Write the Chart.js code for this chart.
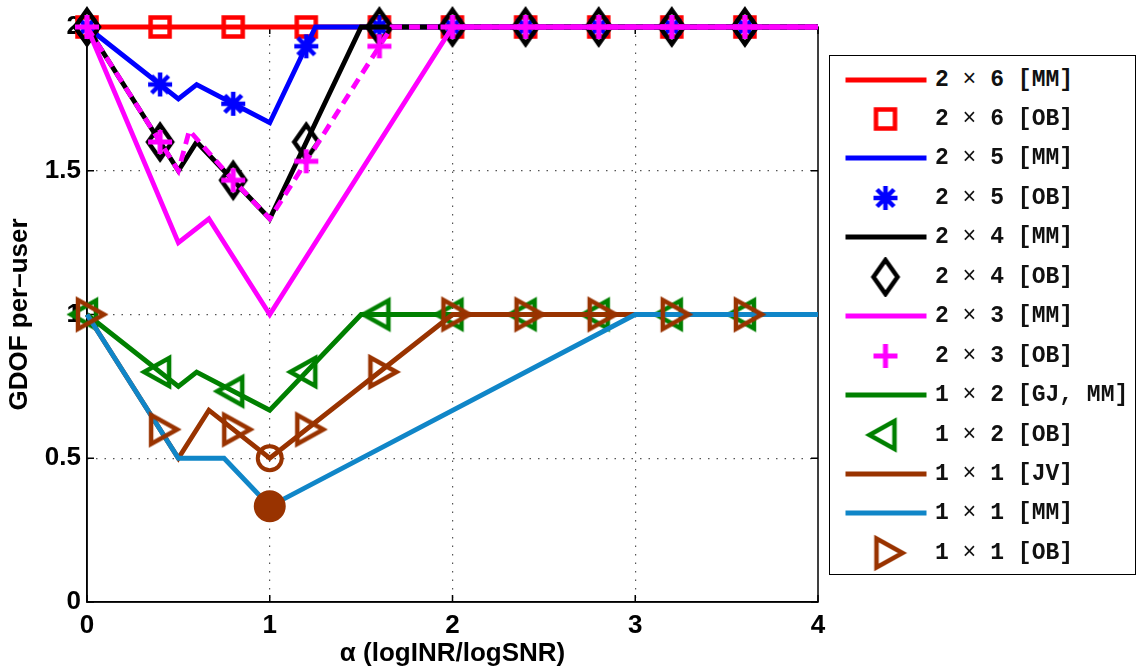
<!DOCTYPE html>
<html>
<head>
<meta charset="utf-8">
<style>
  body { margin: 0; background: #fff; }
  #wrap { position: relative; width: 1140px; height: 669px; }
  #legend {
    position: absolute; left: 829px; top: 55px; width: 305px; height: 518px;
    border: 1.5px solid #000; background: #fff;
  }
  .row { position: absolute; left: 0; height: 40px; width: 300px; }
  .row canvas { position: absolute; left: 0; top: 0; }
  .row span.t {
    position: absolute; left: 105px; top: 0; line-height: 40px; white-space: pre;
    font-family: "Liberation Mono", monospace; font-weight: bold; font-size: 23px; color: #111;
  }
  .row span.x { font-weight: normal; }
</style>
<script src="https://cdn.jsdelivr.net/npm/chart.js"></script>
</head>
<body>
<div id="wrap">
  <canvas id="gdofChart" width="1140" height="669"></canvas>
  <div id="legend"></div>
</div>
<script>
  // axis ticks
  const xTicks = [0, 1, 2, 3, 4];
  const yTicks = [0, 0.5, 1, 1.5, 2];
  const yTickLabels = ["0", "0.5", "1", "1.5", "2"];

  // OB markers, every 0.4
  const alphaOB = [0, 0.4, 0.8, 1.2, 1.6, 2.0, 2.4, 2.8, 3.2, 3.6];
  const ob2x6 = [2, 2, 2, 2, 2, 2, 2, 2, 2, 2];
  const ob2x5 = [2, 1.8, 1.733, 1.933, 2, 2, 2, 2, 2, 2];
  const ob2x4 = [2, 1.6, 1.467, 1.6, 2, 2, 2, 2, 2, 2];
  const ob2x3 = [2, 1.6, 1.467, 1.533, 1.933, 2, 2, 2, 2, 2];
  const ob1x2 = [1, 0.8, 0.733, 0.8, 1, 1, 1, 1, 1, 1];
  const ob1x1 = [1, 0.6, 0.6, 0.6, 0.8, 1, 1, 1, 1, 1];

  // dashed 2x3 OB curve
  const alphaOBCurve = [0, 0.4, 0.5, 0.56, 0.8, 1, 1.2, 1.667, 4];
  const obCurve2x3 = [2, 1.6, 1.5, 1.64, 1.467, 1.333, 1.533, 2, 2];

  // MM / JV curves
  const alpha2x6 = [0, 4];
  const mm2x6 = [2, 2];
  const alpha2x5 = [0, 0.5, 0.6, 1, 1.25, 4];
  const mm2x5 = [2, 1.75, 1.8, 1.667, 2, 2];
  const alpha2x4 = [0, 0.5, 0.6, 1, 1.5, 4];
  const mm2x4 = [2, 1.5, 1.6, 1.333, 2, 2];
  const alpha2x3 = [0, 0.5, 0.667, 1, 2, 4];
  const mm2x3 = [2, 1.25, 1.333, 1, 2, 2];
  const alpha1x2 = [0, 0.5, 0.6, 1, 1.5, 4];
  const mm1x2 = [1, 0.75, 0.8, 0.667, 1, 1];
  const alphaJV = [0, 0.5, 0.667, 1, 2, 4];
  const jv1x1 = [1, 0.5, 0.667, 0.5, 1, 1];
  const alpha1x1 = [0, 0.5, 0.75, 1, 3, 4];
  const mm1x1 = [1, 0.5, 0.5, 0.333, 1, 1];

  // the two circles at alpha = 1
  const alphaCircles = [1, 1];
  const circles = [0.5, 0.333];

  const labels = [
    "2 × 6 [MM]", "2 × 6 [OB]", "2 × 5 [MM]", "2 × 5 [OB]",
    "2 × 4 [MM]", "2 × 4 [OB]", "2 × 3 [MM]", "2 × 3 [OB]",
    "1 × 2 [GJ, MM]", "1 × 2 [OB]", "1 × 1 [JV]", "1 × 1 [MM]", "1 × 1 [OB]",
  ];

  const RED = "#ff0000", BLUE = "#0000ff", BLACK = "#000000", MAGENTA = "#ff00ff",
        GREEN = "#008000", BROWN = "#993300", SKY = "#1086c8";

  function pts(xs, ys) {
    return xs.map((x, i) => ({ x: x, y: ys[i] }));
  }

  function makeMarker(kind, color) {
    const c = document.createElement("canvas");
    c.width = 56; c.height = 56;
    const g = c.getContext("2d");
    const m = 28;
    g.strokeStyle = color;
    g.lineWidth = 4.5;
    g.lineJoin = "miter";
    g.beginPath();
    if (kind === "square") {
      g.rect(m - 9.5, m - 9.5, 19, 19);
    } else if (kind === "star") {
      g.lineWidth = 4.5;
      for (let k = 0; k < 4; k++) {
        const a = k * Math.PI / 4;
        g.moveTo(m - 12 * Math.cos(a), m - 12 * Math.sin(a));
        g.lineTo(m + 12 * Math.cos(a), m + 12 * Math.sin(a));
      }
    } else if (kind === "diamond") {
      g.moveTo(m, m - 17); g.lineTo(m + 12, m); g.lineTo(m, m + 17); g.lineTo(m - 12, m);
      g.closePath();
    } else if (kind === "plus") {
      g.lineWidth = 5;
      g.moveTo(m - 12, m); g.lineTo(m + 12, m);
      g.moveTo(m, m - 12); g.lineTo(m, m + 12);
    } else if (kind === "triLeft") {
      g.moveTo(m - 16, m); g.lineTo(m + 9, m - 14); g.lineTo(m + 9, m + 14);
      g.closePath();
    } else if (kind === "triRight") {
      g.moveTo(m + 17, m); g.lineTo(m - 9, m - 14.5); g.lineTo(m - 9, m + 14.5);
      g.closePath();
    }
    g.stroke();
    return c;
  }

  const mk = {
    square: makeMarker("square", RED),
    star: makeMarker("star", BLUE),
    diamond: makeMarker("diamond", BLACK),
    plus: makeMarker("plus", MAGENTA),
    triLeft: makeMarker("triLeft", GREEN),
    triRight: makeMarker("triRight", BROWN),
  };

  function lineSet(label, xs, ys, color, dash) {
    return {
      label: label, data: pts(xs, ys), borderColor: color, borderWidth: 4.8,
      borderDash: dash || [], pointRadius: 0, fill: false, tension: 0,
      borderJoinStyle: "miter", clip: false,
    };
  }
  function markSet(label, ys, marker, color) {
    return {
      label: label, data: pts(alphaOB, ys), borderColor: color, showLine: false,
      pointStyle: marker, pointRadius: 12, pointHoverRadius: 12, clip: false,
    };
  }

  const datasets = [
    lineSet(labels[0], alpha2x6, mm2x6, RED),
    markSet(labels[1], ob2x6, mk.square, RED),
    lineSet(labels[2], alpha2x5, mm2x5, BLUE),
    markSet(labels[3], ob2x5, mk.star, BLUE),
    lineSet(labels[4], alpha2x4, mm2x4, BLACK),
    markSet(labels[5], ob2x4, mk.diamond, BLACK),
    lineSet(labels[6], alpha2x3, mm2x3, MAGENTA),
    lineSet(labels[7] + " curve", alphaOBCurve, obCurve2x3, MAGENTA, [11, 7]),
    markSet(labels[7], ob2x3, mk.plus, MAGENTA),
    lineSet(labels[8], alpha1x2, mm1x2, GREEN),
    markSet(labels[9], ob1x2, mk.triLeft, GREEN),
    lineSet(labels[10], alphaJV, jv1x1, BROWN),
    lineSet(labels[11], alpha1x1, mm1x1, SKY),
    markSet(labels[12], ob1x1, mk.triRight, BROWN),
    {
      label: "circles", data: pts(alphaCircles, circles), showLine: false,
      pointStyle: "circle", pointRadius: [12, 14], borderWidth: 4,
      borderColor: BROWN, backgroundColor: ["rgba(0,0,0,0)", BROWN], clip: false,
    },
  ];
  // later entries are drawn on top
  datasets.forEach((d, i) => { d.order = 100 - i; });

  const frame = {
    id: "frame",
    beforeDatasetsDraw(chart) {
      const a = chart.chartArea, g = chart.ctx;
      g.save();
      g.strokeStyle = "#000";
      g.lineWidth = 1.5;
      g.strokeRect(a.left, a.top, a.right - a.left, a.bottom - a.top);
      g.beginPath();
      chart.scales.x.ticks.forEach(t => {
        const px = chart.scales.x.getPixelForValue(t.value);
        g.moveTo(px, a.bottom); g.lineTo(px, a.bottom - 7);
        g.moveTo(px, a.top); g.lineTo(px, a.top + 7);
      });
      chart.scales.y.ticks.forEach(t => {
        const py = chart.scales.y.getPixelForValue(t.value);
        g.moveTo(a.left, py); g.lineTo(a.left + 7, py);
        g.moveTo(a.right, py); g.lineTo(a.right - 7, py);
      });
      g.stroke();
      g.restore();
    },
  };

  const tickFont = { family: "Liberation Sans, Arial, sans-serif", size: 26, weight: "bold" };

  new Chart(document.getElementById("gdofChart").getContext("2d"), {
    type: "line",
    data: { datasets: datasets },
    options: {
      responsive: false,
      animation: false,
      events: [],
      layout: { padding: { left: 0, top: 27, right: 322, bottom: 0 } },
      plugins: { legend: { display: false }, tooltip: { enabled: false } },
      scales: {
        x: {
          type: "linear", min: 0, max: 4,
          afterBuildTicks: s => { s.ticks = xTicks.map(v => ({ value: v })); },
          afterFit: s => { s.height = 67; },
          ticks: { font: tickFont, color: "#000", padding: 8, maxRotation: 0 },
          grid: {
            drawTicks: false,
            color: c => (c.tick && (c.tick.value === 0 || c.tick.value === 4)) ? "rgba(0,0,0,0)" : "#555",
            lineWidth: 1.2,
          },
          border: { display: true, color: "#000", width: 1.5, dash: [1.5, 7] },
          title: {
            display: true, text: "α (logINR/logSNR)", color: "#000",
            font: { family: "Liberation Sans, Arial, sans-serif", size: 26, weight: "bold" },
            padding: { top: 0, bottom: 0 },
          },
        },
        y: {
          type: "linear", min: 0, max: 2,
          afterBuildTicks: s => { s.ticks = yTicks.map(v => ({ value: v })); },
          afterFit: s => { s.width = 87; },
          ticks: {
            font: tickFont, color: "#000", padding: 6,
            callback: v => yTickLabels[yTicks.indexOf(v)],
          },
          grid: {
            drawTicks: false,
            color: c => (c.tick && (c.tick.value === 0 || c.tick.value === 2)) ? "rgba(0,0,0,0)" : "#555",
            lineWidth: 1.2,
          },
          border: { display: true, color: "#000", width: 1.5, dash: [1.5, 7] },
          title: {
            display: true, text: "GDOF per–user", color: "#000",
            font: { family: "Liberation Sans, Arial, sans-serif", size: 26, weight: "bold" },
            padding: { top: 4, bottom: 0 },
          },
        },
      },
    },
    plugins: [frame],
  });

  // legend box
  const legendKinds = [
    ["line", RED], ["mark", mk.square], ["line", BLUE], ["mark", mk.star],
    ["line", BLACK], ["mark", mk.diamond], ["line", MAGENTA], ["mark", mk.plus],
    ["line", GREEN], ["mark", mk.triLeft], ["line", BROWN], ["line", SKY], ["mark", mk.triRight],
  ];
  const legendDiv = document.getElementById("legend");
  labels.forEach((lab, i) => {
    const row = document.createElement("div");
    row.className = "row";
    row.style.top = (23.5 + 39.45 * i - 20) + "px";
    const sw = document.createElement("canvas");
    sw.width = 100; sw.height = 40;
    const g = sw.getContext("2d");
    const kind = legendKinds[i];
    if (kind[0] === "line") {
      g.fillStyle = kind[1];
      g.fillRect(15.5, 17.5, 81, 5);
    } else {
      g.drawImage(kind[1], 55.5 - 28, 20 - 28);
    }
    row.appendChild(sw);
    const t = document.createElement("span");
    t.className = "t";
    const parts = lab.split("×");
    t.appendChild(document.createTextNode(parts[0]));
    const x = document.createElement("span");
    x.className = "x";
    x.textContent = "×";
    t.appendChild(x);
    t.appendChild(document.createTextNode(parts[1]));
    row.appendChild(t);
    legendDiv.appendChild(row);
  });
</script>
</body>
</html>
